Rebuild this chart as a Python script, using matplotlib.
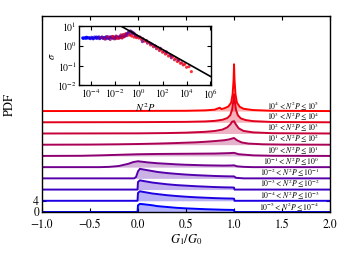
import matplotlib
matplotlib.use('Agg')
import matplotlib.pyplot as plt
import numpy as np

plt.rcParams['font.family'] = 'STIXGeneral'
plt.rcParams['mathtext.fontset'] = 'stix'

# ---- main panel: PDFs of G1/G0, one per N^2P bin (bottom -> top) ----
offset_step = 4
bin_labels = [
    r'$10^{-5} < N^2P \leq 10^{-4}$',
    r'$10^{-4} < N^2P \leq 10^{-3}$',
    r'$10^{-3} < N^2P \leq 10^{-2}$',
    r'$10^{-2} < N^2P \leq 10^{-1}$',
    r'$10^{-1} < N^2P \leq 10^{0}$',
    r'$10^{0} < N^2P \leq 10^{1}$',
    r'$10^{1} < N^2P \leq 10^{2}$',
    r'$10^{2} < N^2P \leq 10^{3}$',
    r'$10^{3} < N^2P \leq 10^{4}$',
    r'$10^{4} < N^2P \leq 10^{5}$',
]
bin_colors = ['#0000ff', '#1c00e3', '#3900c6', '#5500aa', '#71008e',
              '#8e0071', '#aa0055', '#c60039', '#e3001c', '#ff0000']

x0 = [-1.0, -0.005, 0.0, 0.02, 0.05, 0.1, 0.15, 0.2, 0.3, 0.4, 0.5, 0.6, 0.7, 0.8, 0.9, 0.98, 1.0, 1.005, 2.0]
y0 = [0, 0, 2.4, 2.9, 2.8, 2.6, 2.4, 2.1, 1.8, 1.5, 1.3, 1.15, 1.0, 0.9, 0.8, 0.75, 0.7, 0, 0]
x1 = [-1.0, -0.005, 0.0, 0.02, 0.05, 0.1, 0.15, 0.2, 0.3, 0.4, 0.5, 0.6, 0.7, 0.8, 0.9, 0.98, 1.0, 1.005, 2.0]
y1 = [0, 0, 2.8, 3.4, 3.2, 2.9, 2.6, 2.4, 2.0, 1.7, 1.45, 1.25, 1.1, 0.95, 0.85, 0.8, 0.75, 0, 0]
x2 = [-1.0, -0.005, 0.0, 0.02, 0.05, 0.1, 0.15, 0.2, 0.3, 0.4, 0.5, 0.6, 0.7, 0.8, 0.9, 0.98, 1.0, 1.005, 2.0]
y2 = [0, 0, 2.7, 3.3, 3.1, 2.8, 2.5, 2.3, 1.9, 1.6, 1.4, 1.2, 1.05, 0.9, 0.8, 0.75, 0.7, 0, 0]
x3 = [-1.0, -0.04, -0.02, 0.0, 0.02, 0.05, 0.1, 0.15, 0.2, 0.3, 0.4, 0.5, 0.6, 0.7, 0.8, 0.9, 0.98, 1.0, 1.02, 1.1, 2.0]
y3 = [0, 0, 0.5, 2.5, 3.4, 3.2, 2.9, 2.6, 2.3, 1.9, 1.6, 1.35, 1.15, 1.0, 0.85, 0.75, 0.7, 0.7, 0.2, 0, 0]
x4 = [-1.0, -0.4, -0.3, -0.2, -0.1, -0.05, 0.0, 0.05, 0.1, 0.2, 0.3, 0.4, 0.5, 0.6, 0.7, 0.8, 0.9, 0.97, 1.0, 1.03, 1.1, 1.2, 2.0]
y4 = [0, 0, 0.1, 0.4, 1.2, 1.8, 2.1, 1.9, 1.7, 1.4, 1.2, 1.0, 0.85, 0.75, 0.65, 0.6, 0.55, 0.6, 0.65, 0.3, 0.1, 0.0, 0]
x5 = [-1.0, -0.6, -0.4, -0.2, 0.0, 0.2, 0.4, 0.6, 0.8, 0.95, 1.0, 1.05, 1.2, 1.4, 2.0]
y5 = [0, 0.05, 0.2, 0.4, 0.6, 0.7, 0.75, 0.8, 0.85, 1.0, 1.1, 0.6, 0.2, 0.05, 0]
x6 = [-1.0, -0.5, -0.2, 0.0, 0.2, 0.4, 0.6, 0.7, 0.8, 0.9, 0.95, 0.98, 1.0, 1.03, 1.08, 1.15, 1.3, 1.5, 2.0]
y6 = [0, 0.05, 0.15, 0.25, 0.4, 0.6, 0.85, 1.05, 1.3, 1.6, 1.9, 2.2, 2.4, 1.6, 0.8, 0.4, 0.15, 0.05, 0]
x7 = [-1.0, 0.0, 0.3, 0.5, 0.7, 0.8, 0.88, 0.93, 0.96, 0.98, 1.0, 1.02, 1.05, 1.1, 1.2, 1.4, 2.0]
y7 = [0, 0.05, 0.15, 0.3, 0.6, 0.9, 1.4, 2.2, 3.2, 4.2, 4.4, 3.2, 1.8, 0.9, 0.4, 0.1, 0]
x8 = [-1.0, 0.0, 0.5, 0.7, 0.8, 0.88, 0.93, 0.96, 0.98, 0.99, 1.0, 1.01, 1.02, 1.04, 1.07, 1.12, 1.2, 1.4, 2.0]
y8 = [0, 0.05, 0.15, 0.3, 0.5, 0.9, 1.5, 2.5, 4.5, 7.0, 10.0, 7.0, 4.5, 2.5, 1.4, 0.8, 0.4, 0.1, 0]
x9 = [-1.0, 0.0, 0.5, 0.7, 0.8, 0.85, 0.87, 0.9, 0.94, 0.97, 0.985, 0.995, 1.0, 1.005, 1.015, 1.03, 1.06, 1.1, 1.2, 1.4, 2.0]
y9 = [0, 0.05, 0.1, 0.25, 0.5, 1.2, 0.7, 1.0, 1.6, 3.0, 6.0, 11.0, 16.7, 11.0, 6.0, 3.0, 1.5, 0.8, 0.35, 0.1, 0]

curves_x = [x0, x1, x2, x3, x4, x5, x6, x7, x8, x9]
curves_y = [y0, y1, y2, y3, y4, y5, y6, y7, y8, y9]

# ---- inset: sigma vs N^2P (log10 values) ----
# plateau, mostly blue
plat_lx = [-4.70, -4.60, -4.50, -4.42, -4.33, -4.25, -4.15, -4.05, -3.95, -3.86, -3.78, -3.70, -3.60, -3.52,
           -3.43, -3.35, -3.25, -3.16, -3.08, -2.98, -2.90, -2.80, -2.72, -2.62, -2.55, -2.45, -2.36, -2.27,
           -2.18, -2.08, -2.00, -1.90, -1.82, -1.72, -1.63, -1.55, -1.45, -1.36, -1.27, -1.18, -1.10,
           -4.65, -4.38, -4.10, -3.82, -3.55, -3.30, -3.02, -2.76, -2.50, -2.22, -1.95, -1.68, -1.40]
plat_ly = [0.41, 0.40, 0.42, 0.38, 0.43, 0.40, 0.42, 0.37, 0.44, 0.40, 0.39, 0.45, 0.41, 0.38,
           0.43, 0.46, 0.39, 0.42, 0.45, 0.38, 0.43, 0.41, 0.47, 0.42, 0.38, 0.44, 0.46, 0.41,
           0.39, 0.45, 0.43, 0.48, 0.42, 0.46, 0.40, 0.49, 0.44, 0.51, 0.47, 0.56, 0.53,
           0.38, 0.44, 0.39, 0.36, 0.45, 0.37, 0.41, 0.36, 0.40, 0.47, 0.37, 0.42, 0.45]
plat_c = [0, 0, 0, 0, 0, 0, 1, 0, 1, 0, 1, 1, 0, 1,
          1, 2, 1, 1, 2, 1, 2, 2, 1, 2, 2, 3, 2, 2,
          3, 2, 3, 3, 2, 3, 3, 4, 3, 3, 4, 3, 4,
          0, 0, 1, 1, 1, 2, 2, 2, 3, 3, 3, 4, 4]
# mixed purple/red points in the plateau and bump
mix_lx = [-3.1, -2.85, -2.6, -2.4, -2.2, -2.05, -1.9, -1.75, -1.6, -1.5, -1.4, -1.3, -1.2,
          -1.1, -1.0, -0.9, -0.8, -0.7, -0.6, -0.5, -0.4, -0.3, -0.2, -0.1, 0.0]
mix_ly = [0.44, 0.35, 0.47, 0.33, 0.48, 0.36, 0.50, 0.38, 0.45, 0.56, 0.40, 0.58, 0.47,
          0.62, 0.52, 0.66, 0.55, 0.60, 0.50, 0.62, 0.45, 0.55, 0.42, 0.48, 0.40]
mix_c = [5, 6, 7, 5, 8, 6, 7, 9, 5, 6, 8, 7, 6, 9, 5, 7, 8, 6, 9, 5, 8, 7, 9, 6, 8]
# blue bump just below N^2P = 1
bump_lx = [-1.0, -0.85, -0.7, -0.6, -0.5, -0.4, -0.3, -0.2]
bump_ly = [0.62, 0.70, 0.76, 0.72, 0.68, 0.64, 0.56, 0.52]
bump_c = [3, 3, 4, 3, 4, 4, 4, 5]
# decay branch
dec_lx = [0.10, 0.22, 0.35, 0.48, 0.60, 0.72, 0.85, 0.98, 1.10, 1.22, 1.35, 1.48, 1.60, 1.72,
          1.85, 1.98, 2.10, 2.22, 2.35, 2.48, 2.60, 2.72, 2.85, 2.98, 3.10, 3.22, 3.35, 3.48,
          3.60, 3.72, 3.85, 4.00, 4.20, 4.40, 0.30, 0.65, 1.00, 1.40, 1.80, 2.30, 2.70, 3.30]
dec_ly = [0.45, 0.33, 0.36, 0.24, 0.27, 0.14, 0.18, 0.05, 0.08, -0.04, 0.00, -0.14, -0.10, -0.23,
          -0.19, -0.32, -0.28, -0.41, -0.37, -0.51, -0.46, -0.60, -0.55, -0.70, -0.64, -0.79, -0.74, -0.88,
          -0.85, -0.96, -0.93, -1.08, -1.05, -1.30, 0.22, 0.26, 0.12, -0.02, -0.12, -0.30, -0.50, -0.70]
dec_c = [6, 8, 5, 9, 7, 6, 8, 9, 5, 7, 8, 6, 9, 7,
         8, 9, 6, 8, 7, 9, 8, 5, 9, 7, 8, 9, 6, 9,
         8, 7, 9, 9, 8, 9, 4, 5, 4, 5, 4, 5, 4, 5]

fit_amp = 3.14
fit_exp = -0.34
fit_lx = [-2.0, 6.5]

fig = plt.figure(figsize=(3.41, 2.73), dpi=100)
ax = fig.add_axes([0.123, 0.2234, 0.845, 0.719])

for i in range(len(curves_x)):
    off = i * offset_step
    xs = np.array(curves_x[i])
    ys = np.array(curves_y[i]) + off
    ax.fill_between(xs, off, ys, color=bin_colors[i], alpha=0.3, lw=0)
    ax.plot(xs, ys, color=bin_colors[i], lw=1.4)
    ax.text(1.89, off + 1.9, bin_labels[i], ha='right', va='center', fontsize=5.6)

ax.set_xlim(-1.0, 2.0)
ax.set_ylim(0, 70)
ax.set_xticks([-1.0, -0.5, 0.0, 0.5, 1.0, 1.5, 2.0])
ax.set_xticklabels(['\u22121.0', '\u22120.5', '0.0', '0.5', '1.0', '1.5', '2.0'])
ax.set_yticks([0, 4])
ax.tick_params(direction='in', top=True, right=True, labelsize=8.5, length=3, pad=2)
ax.tick_params(axis='x', pad=5)
ax.set_xlabel(r'$G_1/G_0$', fontsize=9, labelpad=1)
ax.set_ylabel('PDF', fontsize=9, labelpad=-2)
ax.yaxis.set_label_coords(-0.09, 0.55)
for s in ax.spines.values():
    s.set_linewidth(1.0)

# inset
axin = fig.add_axes([0.232, 0.687, 0.388, 0.217])
all_lx = plat_lx + mix_lx + bump_lx + dec_lx
all_ly = plat_ly + mix_ly + bump_ly + dec_ly
all_c = plat_c + mix_c + bump_c + dec_c
axin.scatter(10 ** np.array(all_lx), 10 ** np.array(all_ly),
             c=[bin_colors[k] for k in all_c], s=5, lw=0, alpha=0.8)
fx = 10 ** np.array(fit_lx)
axin.plot(fx, fit_amp * fx ** fit_exp, color='k', lw=1.2)
axin.set_xscale('log')
axin.set_yscale('log')
axin.set_xlim(1e-5, 1.2e6)
axin.set_ylim(1e-2, 1e1)
axin.set_xticks([1e-4, 1e-2, 1e0, 1e2, 1e4, 1e6])
axin.set_yticks([1e-2, 1e-1, 1e0, 1e1])
axin.minorticks_off()
axin.tick_params(direction='in', top=True, right=True, labelsize=7, length=3, pad=1.5)
axin.set_xlabel(r'$N^2P$', fontsize=7.5, labelpad=0)
axin.set_ylabel(r'$\sigma$', fontsize=7.5, labelpad=0)
for s in axin.spines.values():
    s.set_linewidth(1.0)

fig.savefig('out.png', dpi=100)
